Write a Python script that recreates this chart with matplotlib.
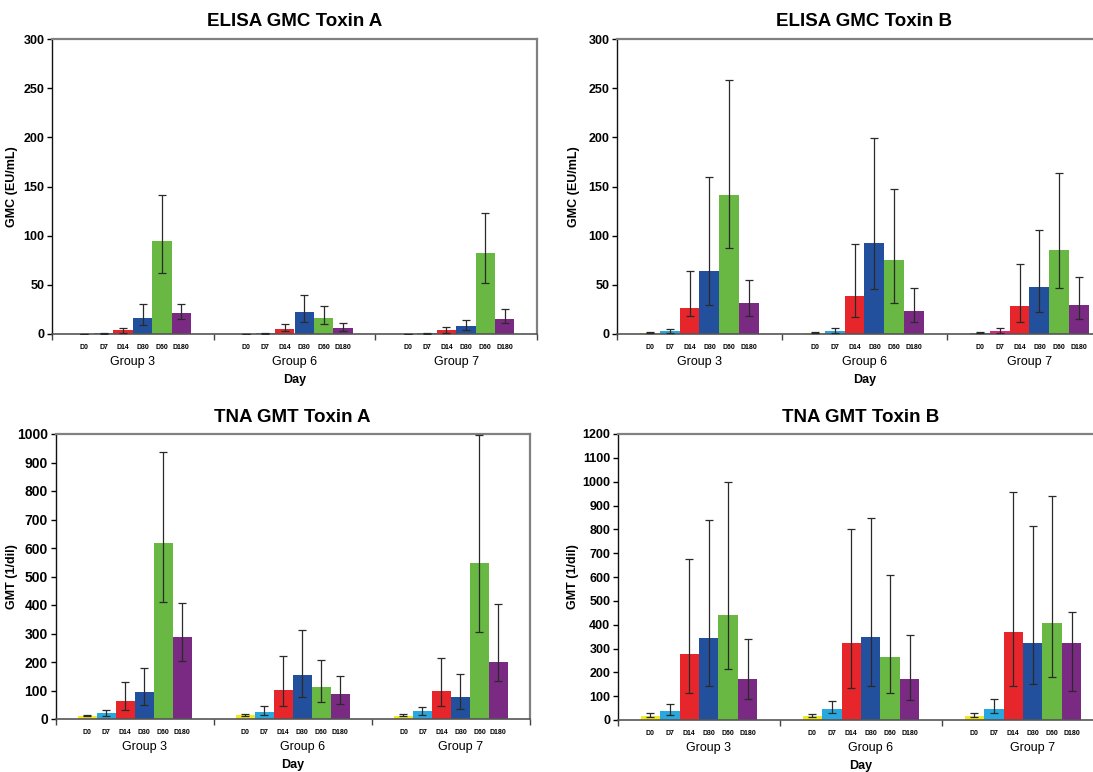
import matplotlib
matplotlib.use("Agg")
import matplotlib.pyplot as plt
import numpy as np

plt.rcParams['font.family'] = ['Liberation Sans', 'DejaVu Sans']

# ---------------- data ----------------
groups = ["Group 3", "Group 6", "Group 7"]
days = ["D0", "D7", "D14", "D30", "D60", "D180"]

# ELISA GMC Toxin A (EU/mL)
elisa_a_val = [[0.3, 0.8, 3.7, 16.6, 95.0, 21.4],
               [0.3, 0.7, 4.8, 22.7, 16.6, 6.1],
               [0.3, 0.8, 3.7, 7.8, 82.5, 15.3]]
elisa_a_lo = [[0.2, 0.5, 1.4, 8.8, 62.4, 14.9],
              [0.2, 0.4, 2.7, 12.2, 10.2, 3.4],
              [0.2, 0.5, 1.4, 4.1, 52.3, 10.9]]
elisa_a_hi = [[0.5, 1.1, 6.4, 30.9, 141.5, 30.9],
              [0.5, 1.0, 10.2, 40.0, 28.8, 10.9],
              [0.5, 1.2, 7.5, 14.6, 123.5, 25.1]]

# ELISA GMC Toxin B (EU/mL)
elisa_b_val = [[1.4, 3.1, 26.0, 63.8, 141.8, 31.2],
               [1.4, 3.1, 39.0, 93.0, 75.3, 23.0],
               [1.4, 2.7, 28.8, 48.2, 85.2, 29.5]]
elisa_b_lo = [[0.7, 1.4, 18.3, 29.2, 87.2, 18.3],
              [0.7, 1.4, 17.0, 45.8, 31.9, 11.9],
              [0.7, 1.4, 11.9, 22.0, 47.2, 14.9]]
elisa_b_hi = [[2.4, 5.1, 64.0, 160.0, 258.0, 55.0],
              [2.4, 6.1, 92.0, 199.0, 147.0, 47.2],
              [2.4, 5.8, 71.3, 105.9, 163.6, 58.4]]

# TNA GMT Toxin A (1/dil)
tna_a_val = [[11.7, 19.9, 62.0, 94.6, 617.0, 288.6],
             [14.0, 23.4, 100.5, 155.0, 112.0, 86.4],
             [11.7, 29.2, 97.0, 76.0, 546.7, 200.0]]
tna_a_lo = [[9.3, 11.7, 30.0, 49.0, 410.0, 203.0],
            [9.3, 15.2, 46.7, 78.0, 60.7, 53.7],
            [9.3, 14.0, 46.7, 35.0, 307.0, 134.0]]
tna_a_hi = [[14.0, 32.7, 131.0, 178.7, 938.0, 406.5],
            [17.5, 46.7, 222.0, 314.0, 208.0, 152.0],
            [17.5, 42.0, 214.0, 157.7, 995.0, 402.0]]

# TNA GMT Toxin B (1/dil)
tna_b_val = [[18.2, 37.8, 276.0, 344.5, 441.0, 172.0],
             [16.8, 47.6, 322.0, 348.7, 264.7, 170.9],
             [18.2, 44.8, 368.0, 325.0, 409.0, 322.0]]
tna_b_lo = [[11.2, 21.0, 112.0, 144.0, 214.0, 86.8],
            [11.2, 28.0, 136.0, 142.9, 114.8, 82.6],
            [11.2, 28.0, 144.0, 150.0, 182.0, 123.0]]
tna_b_hi = [[28.0, 65.8, 674.0, 839.0, 998.6, 340.0],
            [23.8, 79.8, 801.0, 848.7, 609.0, 357.0],
            [28.0, 88.0, 956.6, 813.7, 941.0, 452.0]]

day_colors = ["#f2ea1c", "#28a8df", "#e6262b", "#23509c", "#68b843", "#7a2a82"]
# ELISA Toxin B, Group 7 uses different colours for D0 / D7 in the original
elisa_b_g7_colors = ["#1f9fb3", "#e2227f", "#e6262b", "#23509c", "#68b843", "#7a2a82"]

# ---------------- layout ----------------
W, H = 1093, 772
fig = plt.figure(figsize=(W / 100, H / 100), dpi=100)


def px_rect(left, top, width, height):
    return [left / W, 1 - (top + height) / H, width / W, height / H]


panels = [
    dict(title="ELISA GMC Toxin A", ylabel="GMC (EU/mL)", val=elisa_a_val, lo=elisa_a_lo, hi=elisa_a_hi,
         ymax=300, ystep=50, rect=px_rect(52, 39, 485, 295), grp_off=0.0, ylab_x=-0.071,
         tick_fs=9, colors=None),
    dict(title="ELISA GMC Toxin B", ylabel="GMC (EU/mL)", val=elisa_b_val, lo=elisa_b_lo, hi=elisa_b_hi,
         ymax=300, ystep=50, rect=px_rect(617, 39, 495, 295), grp_off=0.0, ylab_x=-0.075,
         tick_fs=9, colors={2: elisa_b_g7_colors}),
    dict(title="TNA GMT Toxin A", ylabel="GMT (1/dil)", val=tna_a_val, lo=tna_a_lo, hi=tna_a_hi,
         ymax=1000, ystep=100, rect=px_rect(55.5, 434, 474.5, 285), grp_off=0.06, ylab_x=-0.080,
         tick_fs=10, colors=None),
    dict(title="TNA GMT Toxin B", ylabel="GMT (1/dil)", val=tna_b_val, lo=tna_b_lo, hi=tna_b_hi,
         ymax=1200, ystep=100, rect=px_rect(618, 434, 486, 286), grp_off=0.06, ylab_x=-0.080,
         tick_fs=9, colors=None),
]

bar_w = 0.12
first_off = 0.2

for p in panels:
    ax = fig.add_axes(p["rect"])
    val = np.array(p["val"])
    lo = np.array(p["lo"])
    hi = np.array(p["hi"])
    centers_all = []
    for g in range(len(groups)):
        xs = g + first_off + np.arange(len(days)) * bar_w
        centers_all.extend(xs)
        cols = day_colors
        if p["colors"] and g in p["colors"]:
            cols = p["colors"][g]
        ax.bar(xs, val[g], width=bar_w, color=cols, edgecolor='none', zorder=2)
        yerr = np.vstack([val[g] - lo[g], hi[g] - val[g]])
        ax.errorbar(xs, val[g], yerr=yerr, fmt='none', ecolor='#2a2a2a',
                    elinewidth=0.9, capsize=2.8, capthick=0.9, zorder=3)
        ax.annotate(groups[g], xy=(g + first_off + 2.5 * bar_w + p["grp_off"], 0),
                    xycoords=('data', 'axes fraction'), xytext=(0, -20),
                    textcoords='offset points', ha='center', va='center', fontsize=9)
    ax.annotate("Day", xy=(0.5, 0), xycoords='axes fraction', xytext=(0, -33),
                textcoords='offset points', ha='center', va='center', fontsize=9, fontweight='bold')

    ax.set_xlim(0, 3)
    ax.set_ylim(0, p["ymax"])
    ax.set_yticks(np.arange(0, p["ymax"] + 1, p["ystep"]))
    ax.set_xticks([0, 1, 2, 3])
    ax.set_xticklabels([])
    ax.set_xticks(centers_all, minor=True)
    ax.set_xticklabels(days * len(groups), minor=True, fontsize=5, fontweight='bold')
    ax.tick_params(axis='x', which='minor', length=0, pad=7)
    ax.tick_params(axis='x', which='major', length=4, direction='out', width=1, color='#444444')
    ax.tick_params(axis='y', length=3.5, direction='out', width=1, pad=2,
                   labelsize=p["tick_fs"])
    for lab in ax.get_yticklabels():
        lab.set_fontweight('bold')

    ax.set_title(p["title"], fontsize=13.5, fontweight='bold', pad=9)
    ax.set_ylabel(p["ylabel"], fontsize=9, fontweight='bold')
    ax.yaxis.set_label_coords(p["ylab_x"], 0.5)

    ax.spines['left'].set_color('#111111')
    ax.spines['left'].set_linewidth(1.0)
    ax.spines['bottom'].set_color('#555555')
    ax.spines['bottom'].set_linewidth(1.2)
    for s in ('top', 'right'):
        ax.spines[s].set_color('#808080')
        ax.spines[s].set_linewidth(1.6)

fig.savefig("out.png", dpi=100)
